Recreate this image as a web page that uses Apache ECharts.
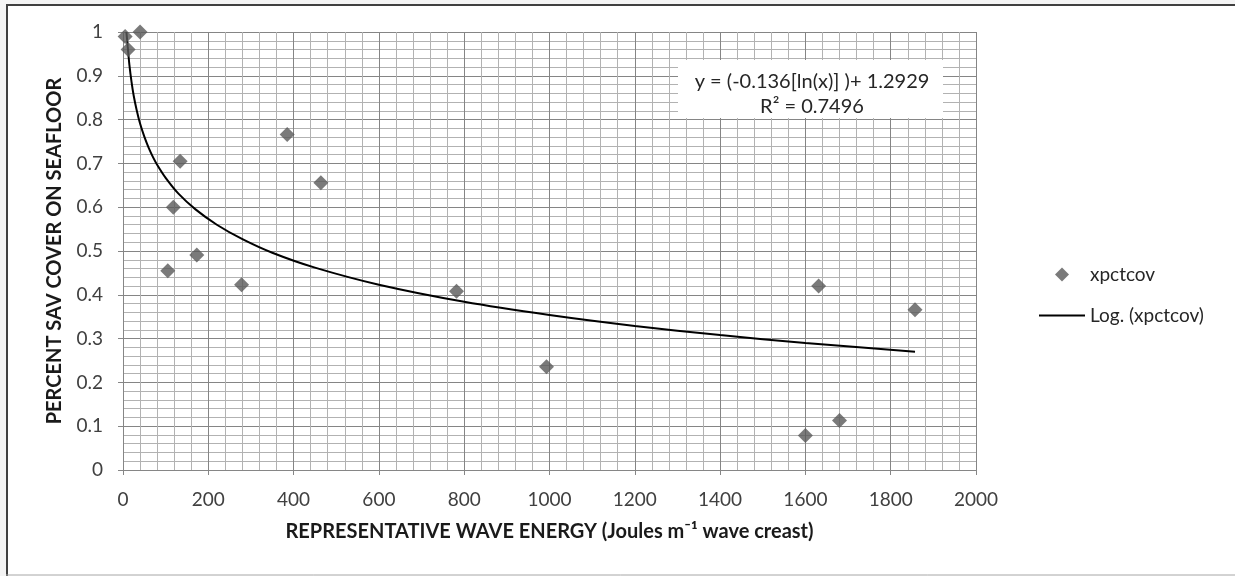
<!DOCTYPE html>
<html>
<head>
<meta charset="utf-8">
<script src="https://cdn.jsdelivr.net/npm/echarts@6/dist/echarts.min.js"></script>
<style>
html,body{margin:0;padding:0;background:#f4f4f4;}
#chart{width:1235px;height:576px;}
</style>
</head>
<body>
<div id="chart"></div>
<script>
const energy = [5, 12, 40, 105, 118, 134, 173, 278, 385, 464, 782, 993, 1600, 1631, 1680, 1857];
const cover  = [0.99, 0.96, 1.0, 0.455, 0.60, 0.705, 0.491, 0.423, 0.766, 0.656, 0.408, 0.236, 0.079, 0.420, 0.113, 0.366];
// Logarithmic trendline
const trendX = [8, 11, 15, 20, 25, 32, 40, 50, 60, 70, 80, 100, 130, 170, 220, 280, 350, 450, 600, 800, 1000, 1200, 1400, 1600, 1857];
const trendY = [1.0, 0.967, 0.925, 0.886, 0.855, 0.822, 0.791, 0.761, 0.736, 0.715, 0.697, 0.667, 0.631, 0.595, 0.560, 0.527, 0.496, 0.462, 0.423, 0.384, 0.354, 0.329, 0.308, 0.290, 0.270];
const xTicks = {min: 0, max: 2000, interval: 200};
const yTicks = {min: 0, max: 1, interval: 0.1};
const seriesNames = ['xpctcov', 'Log. (xpctcov)'];
const equationLines = ['y = (-0.136[ln(x)] )+ 1.2929', 'R\u00B2 = 0.7496'];
const xTitle = 'REPRESENTATIVE WAVE ENERGY (Joules m\u207B\u00B9 wave creast)';
const yTitle = 'PERCENT SAV COVER ON SEAFLOOR';

const FONT = 'Lato';
const chart = echarts.init(document.getElementById('chart'), null, {renderer: 'canvas'});
const axisCommon = {
  axisLine: {show: true, lineStyle: {color: '#868686', width: 1}},
  axisTick: {show: true, length: 5, lineStyle: {color: '#868686'}},
  splitLine: {show: true, lineStyle: {color: '#858585', width: 1}},
  minorTick: {show: true, splitNumber: 5, length: 0},
  minorSplitLine: {show: true, lineStyle: {color: '#b2b2b2', width: 1}},
  nameLocation: 'middle',
  nameTextStyle: {color: '#1a1a1a', fontFamily: FONT, fontSize: 20, fontWeight: 'bold'}
};
const labelStyle = {color: '#404040', fontFamily: FONT, fontSize: 19, margin: 20, formatter: v => String(v)};
chart.setOption({
  backgroundColor: '#ffffff',
  animation: false,
  grid: {left: 123, right: 259, top: 32, bottom: 106},
  xAxis: Object.assign({}, axisCommon, {
    type: 'value', min: xTicks.min, max: xTicks.max, interval: xTicks.interval,
    name: xTitle, nameGap: 52, axisLabel: labelStyle
  }),
  yAxis: Object.assign({}, axisCommon, {
    type: 'value', min: yTicks.min, max: yTicks.max, interval: yTicks.interval,
    name: yTitle, nameGap: 58, axisLabel: labelStyle
  }),
  legend: [
    {data: [{name: seriesNames[0], icon: 'diamond'}], orient: 'vertical', left: 1050, top: 260,
     itemWidth: 14, itemHeight: 14,
     textStyle: {color: '#262626', fontFamily: FONT, fontSize: 19, padding: [0, 0, 0, 16]}},
    {data: [{name: seriesNames[1], icon: 'rect'}], orient: 'vertical', left: 1034, top: 301,
     itemWidth: 46, itemHeight: 2,
     textStyle: {color: '#262626', fontFamily: FONT, fontSize: 19}}
  ],
  series: [
    {name: seriesNames[0], type: 'scatter', symbol: 'diamond', symbolSize: 15,
     itemStyle: {color: '#595959'},
     data: energy.map((x, i) => [x, cover[i]]), z: 3},
    {name: seriesNames[1], type: 'line', showSymbol: false, smooth: 0.3,
     lineStyle: {color: '#000000', width: 2}, itemStyle: {color: '#000000'},
     data: trendX.map((x, i) => [x, trendY[i]]), z: 2}
  ],
  graphic: [
    {type: 'rect', left: 0, top: 0, shape: {width: 1235, height: 5}, style: {fill: '#f4f4f4'}, z: 10},
    {type: 'rect', left: 0, top: 0, shape: {width: 6, height: 576}, style: {fill: '#f4f4f4'}, z: 10},
    {type: 'line', shape: {x1: 6, y1: 5, x2: 1235, y2: 5}, style: {stroke: '#404040', lineWidth: 2}, z: 11},
    {type: 'line', shape: {x1: 7, y1: 5, x2: 7, y2: 576}, style: {stroke: '#404040', lineWidth: 2}, z: 11},
    {type: 'line', shape: {x1: 6, y1: 575, x2: 1235, y2: 575}, style: {stroke: '#a6a6a6', lineWidth: 1}, z: 11},
    {type: 'rect', shape: {x: 678, y: 60, width: 265, height: 58}, style: {fill: '#ffffff'}, z: 20},
    {type: 'text', x: 812, y: 82, z: 21, style: {text: equationLines[0], fill: '#262626', font: '20px ' + FONT, textAlign: 'center', textVerticalAlign: 'middle'}},
    {type: 'text', x: 812, y: 107, z: 21, style: {text: equationLines[1], fill: '#262626', font: '20px ' + FONT, textAlign: 'center', textVerticalAlign: 'middle'}}
  ]
});
</script>
</body>
</html>
